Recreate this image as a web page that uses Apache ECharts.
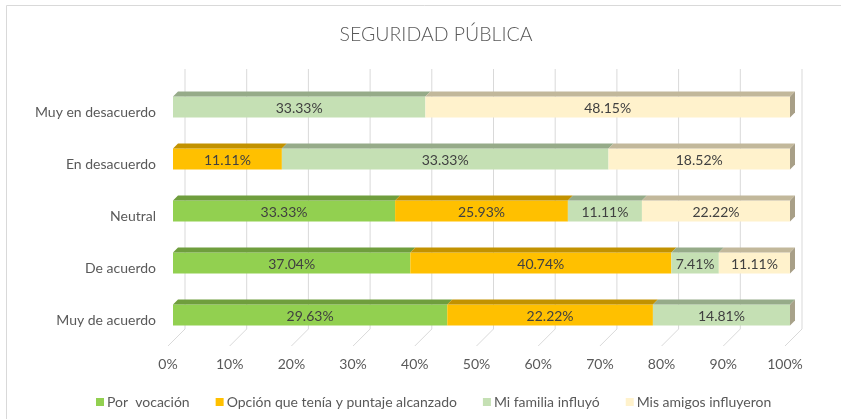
<!DOCTYPE html>
<html>
<head>
<meta charset="utf-8">
<script src="https://cdn.jsdelivr.net/npm/echarts@6/dist/echarts.min.js"></script>
<style>
  html, body { margin: 0; padding: 0; background: #fff; }
  #chart { width: 841px; height: 419px; }
</style>
</head>
<body>
<div id="chart"></div>
<script>
// categorias de abajo hacia arriba
const categories = ['Muy de acuerdo', 'De acuerdo', 'Neutral', 'En desacuerdo', 'Muy en desacuerdo']
const seriesNames = ['Por  vocación', 'Opción que tenía y puntaje alcanzado', 'Mi familia influyó', 'Mis amigos influyeron']
const porVocacion = [29.63, 37.04, 33.33, 0, 0]
const opcion = [22.22, 40.74, 25.93, 11.11, 0]
const familia = [14.81, 7.41, 11.11, 33.33, 33.33]
const amigos = [0, 11.11, 22.22, 18.52, 48.15]
const xTicks = [0, 10, 20, 30, 40, 50, 60, 70, 80, 90, 100]

const allValues = [porVocacion, opcion, familia, amigos]
const frontColors = ['#92D050', '#FFC000', '#C5E0B4', '#FFF2CC']
const topColors = ['#6F9E3D', '#C29200', '#96AB89', '#C2B89B']
const sideColors = ['#5E8534', '#A37B00', '#A8A28A', '#A89F87']

const SHIFT = 5 // desplazamiento de la cara frontal (profundidad)
const WALL = 17 // profundidad de la pared del fondo

// totales por fila (100% apilado)
const rowTotals = categories.map((c, i) => allValues.reduce((s, arr) => s + arr[i], 0))
// ultimo segmento no nulo de cada fila
const lastIdx = categories.map((c, i) => {
  let last = 0
  allValues.forEach((arr, k) => { if (arr[i] > 0) last = k })
  return last
})

function buildData (k) {
  const out = []
  categories.forEach((c, i) => {
    let start = 0
    for (let j = 0; j < k; j++) start += allValues[j][i] / rowTotals[i] * 100
    const v = allValues[k][i]
    if (v <= 0) return
    const end = start + v / rowTotals[i] * 100
    out.push([start, end, i, v])
  })
  return out
}

function renderBar (k) {
  return function (params, api) {
    const s = api.coord([api.value(0), api.value(2)])
    const e = api.coord([api.value(1), api.value(2)])
    const h = api.size([0, 1])[1] * 0.4
    const x0 = s[0] + SHIFT
    const x1 = e[0] + SHIFT
    const y0 = s[1] - SHIFT - h / 2
    const y1 = y0 + h
    const children = [
      { type: 'rect', shape: { x: x0, y: y0, width: x1 - x0, height: h }, style: { fill: frontColors[k] } },
      { type: 'polygon', shape: { points: [[x0, y0], [x0 + SHIFT, y0 - SHIFT], [x1 + SHIFT, y0 - SHIFT], [x1, y0]] }, style: { fill: topColors[k] } }
    ]
    if (lastIdx[api.value(2)] === k) {
      children.push({ type: 'polygon', shape: { points: [[x1, y0], [x1 + SHIFT, y0 - SHIFT], [x1 + SHIFT, y1 - SHIFT], [x1, y1]] }, style: { fill: sideColors[k] } })
    }
    children.push({
      type: 'text',
      style: {
        text: api.value(3).toFixed(2) + '%',
        x: (x0 + x1) / 2,
        y: y0 + h / 2 + 1,
        align: 'center',
        verticalAlign: 'middle',
        fill: '#404040',
        font: '14px Lato'
      }
    })
    return { type: 'group', children: children }
  }
}

// lineas de la pared del fondo y del piso
function renderGrid (params, api) {
  const sys = params.coordSys
  const p = api.coord([api.value(0), 0])
  const x = p[0]
  const top = sys.y
  const bottom = sys.y + sys.height
  return {
    type: 'group',
    children: [
      { type: 'line', shape: { x1: x + WALL, y1: top - WALL, x2: x + WALL, y2: bottom - WALL }, style: { stroke: '#D9D9D9', lineWidth: 1 } },
      { type: 'line', shape: { x1: x + WALL, y1: bottom - WALL, x2: x, y2: bottom }, style: { stroke: '#D9D9D9', lineWidth: 1 } }
    ]
  }
}

const chart = echarts.init(document.getElementById('chart'))
const series = [{
  type: 'custom',
  name: 'grid',
  renderItem: renderGrid,
  data: xTicks.map(t => [t]),
  silent: true,
  z: 1
}]
seriesNames.forEach((name, k) => {
  series.push({
    type: 'custom',
    name: name,
    renderItem: renderBar(k),
    itemStyle: { color: frontColors[k] },
    encode: { x: [0, 1], y: 2 },
    data: buildData(k),
    z: 2
  })
})

chart.setOption({
  animation: false,
  graphic: [{
    type: 'rect',
    shape: { x: 6.5, y: 5.5, width: 900, height: 500 },
    style: { fill: 'none', stroke: '#D9D9D9', lineWidth: 1 },
    silent: true
  }],
  title: {
    text: 'SEGURIDAD PÚBLICA',
    left: 431,
    top: 20,
    textAlign: 'center',
    textStyle: { fontFamily: 'Lato', fontSize: 19.5, fontWeight: 300, color: '#595959' }
  },
  legend: {
    data: seriesNames,
    left: 91,
    top: 390,
    icon: 'rect',
    itemWidth: 8,
    itemHeight: 8,
    itemGap: 26,
    textStyle: { fontFamily: 'Lato', fontSize: 14, color: '#595959', padding: [0, 0, 0, -2] }
  },
  grid: { left: 168, top: 86, width: 617, height: 260 },
  xAxis: {
    type: 'value',
    min: 0,
    max: 100,
    interval: 10,
    axisLine: { show: false },
    axisTick: { show: false },
    splitLine: { show: false },
    axisLabel: { formatter: '{value}%', fontFamily: 'Lato', fontSize: 14, color: '#595959', margin: 11 }
  },
  yAxis: {
    type: 'category',
    data: categories,
    axisLine: { show: false },
    axisTick: { show: false },
    axisLabel: { fontFamily: 'Lato', fontSize: 14, color: '#595959', margin: 12 }
  },
  series: series
})
</script>
</body>
</html>
